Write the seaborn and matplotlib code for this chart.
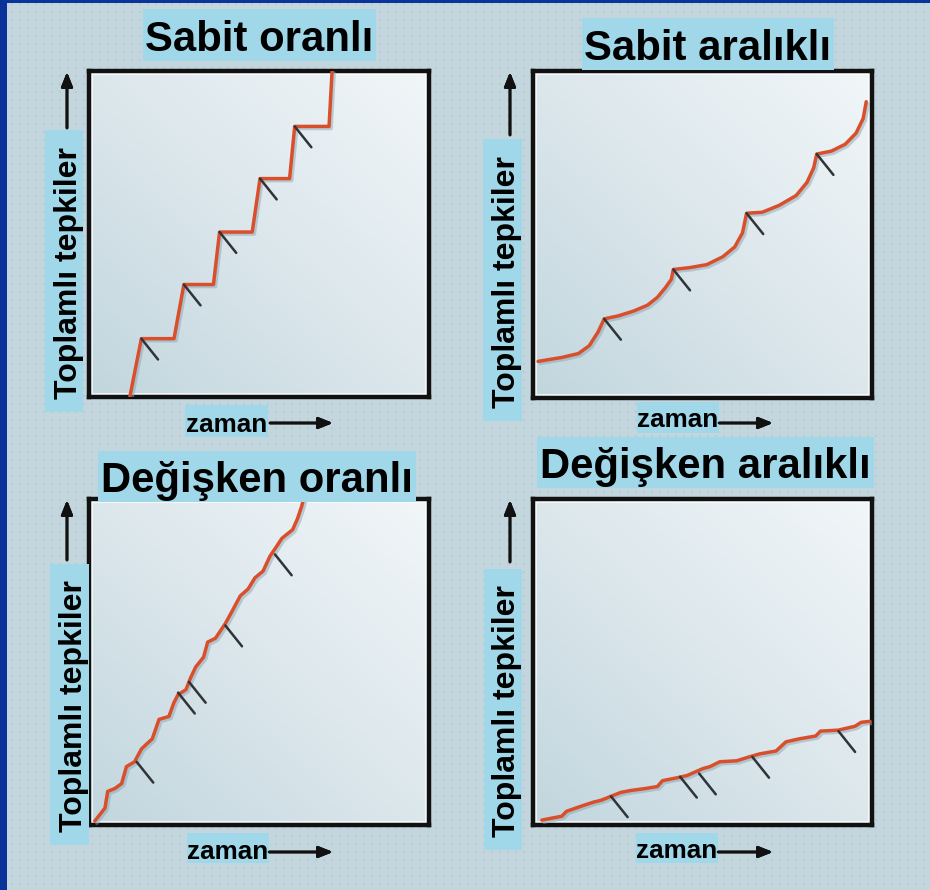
"""
Pekiştirme tarifeleri — dört küçük grafik (toplamlı tepkiler / zaman)
"""

import matplotlib
matplotlib.use("Agg")

import matplotlib.pyplot as plt
import matplotlib.patheffects as pe
from matplotlib.colors import LinearSegmentedColormap
from matplotlib.patches import Rectangle
import numpy as np
import seaborn as sns

# ============================================================
# VERİ (grafik kutusu içinde 0-100 ölçeği)
# ============================================================
BASLIKLAR = ["Sabit oranlı", "Sabit aralıklı", "Değişken oranlı", "Değişken aralıklı"]
Y_ETIKET = "Toplamlı tepkiler"
X_ETIKET = "zaman"

# Sabit oranlı: basamaklar
SO_X = [12.0, 15.4, 25.0, 27.9, 36.6, 38.4, 48.0, 50.3, 59.0, 60.5, 70.6, 71.5]
SO_Y = [0.0, 17.9, 17.9, 34.5, 34.5, 50.6, 50.6, 67.0, 67.0, 83.0, 83.0, 100.0]
SO_PEK_X = [15.4, 27.9, 38.4, 50.3, 60.5]
SO_PEK_Y = [17.9, 34.5, 50.6, 67.0, 83.0]

# Sabit aralıklı: tarak (scallop) eğrisi
SA_X = [1.5, 8.5, 13.4, 16.6, 19.2, 21.0,
        25.1, 29.7, 33.8, 36.7, 39.1, 40.8, 41.4,
        46.4, 51.3, 56.0, 59.5, 61.8, 63.0,
        67.6, 72.6, 77.6, 80.8, 82.8, 83.7,
        88.0, 92.1, 95.3, 97.4, 98.3]
SA_Y = [11.2, 12.4, 13.6, 16.0, 20.2, 24.2,
        25.1, 26.6, 28.4, 30.8, 33.8, 36.3, 39.3,
        39.9, 40.8, 43.2, 46.2, 50.5, 56.5,
        56.8, 58.9, 61.9, 65.9, 70.4, 74.6,
        75.5, 77.6, 81.0, 85.5, 90.6]
SA_PEK_X = [21.0, 41.4, 63.0, 83.7]
SA_PEK_Y = [24.2, 39.3, 56.5, 74.6]

# Değişken oranlı: dik, pürüzlü çizgi
DO_X = [1.7, 4.7, 5.5, 7.6, 9.6, 11.0, 13.4, 15.4, 16.9, 18.6, 20.6, 23.5,
        25.0, 26.2, 28.5, 29.9, 31.4, 33.7, 34.9, 37.2, 40.1, 42.2, 44.5,
        46.8, 48.8, 51.2, 53.2, 55.2, 56.7, 59.9, 61.3, 62.5, 63.1]
DO_Y = [1.2, 5.2, 10.3, 11.2, 12.7, 17.9, 19.4, 23.3, 24.8, 26.4, 32.4, 33.3,
        37.6, 40.0, 41.5, 45.2, 48.5, 51.5, 56.1, 57.3, 61.8, 65.8, 70.3,
        72.4, 75.8, 77.9, 82.4, 85.5, 87.9, 90.6, 93.9, 97.6, 100.0]
DO_PEK_X = [14.0, 26.2, 29.4, 40.1, 54.7]
DO_PEK_Y = [19.4, 40.6, 43.9, 61.2, 83.0]

# Değişken aralıklı: yatık, pürüzlü çizgi
DA_X = [2.6, 8.5, 9.9, 14.3, 17.8, 20.1, 23.0, 25.9, 28.9, 33.2, 36.7, 38.2,
        42.6, 45.5, 50.1, 52.2, 55.1, 60.1, 63.8, 66.8, 71.7, 74.6, 78.4,
        83.4, 84.8, 90.1, 95.0, 96.8, 99.4]
DA_Y = [1.5, 2.7, 4.2, 5.8, 7.0, 7.6, 8.8, 10.0, 10.6, 11.2, 11.8, 13.6,
        14.5, 15.2, 17.3, 17.9, 19.4, 19.7, 20.9, 21.8, 22.7, 25.5, 26.4,
        27.3, 28.8, 29.1, 30.3, 31.5, 31.8]
DA_PEK_X = [23.0, 43.4, 49.0, 64.7, 90.1]
DA_PEK_Y = [8.8, 14.8, 15.8, 20.9, 28.8]

# ============================================================
# STİL
# ============================================================
ARKA = "#c3d6de"
SERIT = "#0a3399"
VURGU = "#a0d8ea"
KIRMIZI = "#d94f2b"
W, H = 930, 890

sns.set_theme(style="white")
plt.rcParams["font.family"] = ["Liberation Sans", "DejaVu Sans"]


def fx(x):
    return x / W


def fy(y):
    return 1 - y / H


def kutu(fig, x0, y0, x1, y1):
    fig.add_artist(Rectangle((fx(x0), fy(y1)), (x1 - x0) / W, (y1 - y0) / H,
                             transform=fig.transFigure, facecolor=VURGU,
                             edgecolor="none", zorder=2))


def ok(fig, x0, y0, x1, y1):
    fig.add_artist(plt.annotate(
        "", xy=(x1, H - y1), xytext=(x0, H - y0),
        xycoords="figure pixels", textcoords="figure pixels",
        arrowprops=dict(arrowstyle="-|>,head_length=0.5,head_width=0.2",
                        mutation_scale=17, color="#111111", lw=2.0,
                        shrinkA=0, shrinkB=0)))


# panel düzeni (piksel): eksen, başlık kutusu, başlık taban çizgisi,
# y etiket kutusu, y etiket taban x, y ok, x etiket kutusu, x ok
PANELLER = [
    dict(ax=(89, 71, 429, 397), tb=(143, 9, 376, 61), tbase=51,
         yb=(45, 130, 83, 412), ybase=77, yok=(67, 128, 72),
         xb=(185, 405, 268, 437), xbase=432, xok=(270, 333, 423),
         x=SO_X, y=SO_Y, px=SO_PEK_X, py=SO_PEK_Y),
    dict(ax=(533, 71, 872, 398), tb=(582, 18, 834, 70), tbase=60,
         yb=(483, 139, 522, 421), ybase=515, yok=(510, 135, 72),
         xb=(637, 402, 719, 433), xbase=427, xok=(719, 773, 423),
         x=SA_X, y=SA_Y, px=SA_PEK_X, py=SA_PEK_Y),
    dict(ax=(89, 499, 429, 825), tb=(98, 451, 416, 502), tbase=492,
         yb=(50, 564, 89, 845), ybase=82, yok=(67, 560, 500),
         xb=(187, 833, 269, 863), xbase=859, xok=(269, 333, 852),
         x=DO_X, y=DO_Y, px=DO_PEK_X, py=DO_PEK_Y),
    dict(ax=(533, 499, 872, 825), tb=(537, 437, 874, 488), tbase=478,
         yb=(484, 569, 522, 850), ybase=515, yok=(510, 562, 500),
         xb=(636, 833, 718, 863), xbase=858, xok=(718, 773, 852),
         x=DA_X, y=DA_Y, px=DA_PEK_X, py=DA_PEK_Y),
]

gradyan = LinearSegmentedColormap.from_list("panel", ["#c2d6de", "#dce7ec", "#f1f6f8"])
zemin = np.add.outer(np.linspace(0, 1, 60), np.linspace(0, 1, 60)) / 2


def main():
    fig = plt.figure(figsize=(W / 100, H / 100), dpi=100, facecolor=ARKA)

    # arka plandaki hafif nokta dokusu
    doku = fig.add_axes([0, 0, 1, 1], zorder=-1)
    doku.set_axis_off()
    gx, gy = np.meshgrid(np.arange(4, W, 8), np.arange(4, H, 8))
    doku.scatter(gx.ravel(), gy.ravel(), s=1.2, marker="s", color="#b6cbd4",
                 linewidths=0)
    doku.set_xlim(0, W)
    doku.set_ylim(H, 0)

    # sol ve üst mavi şerit
    fig.add_artist(Rectangle((0, 0), fx(7), 1, transform=fig.transFigure,
                             facecolor=SERIT, edgecolor="none", zorder=1))
    fig.add_artist(Rectangle((0, fy(3)), 1, 3 / H, transform=fig.transFigure,
                             facecolor=SERIT, edgecolor="none", zorder=1))

    for baslik, p in zip(BASLIKLAR, PANELLER):
        x0, y0, x1, y1 = p["ax"]
        ax = fig.add_axes([fx(x0), fy(y1), (x1 - x0) / W, (y1 - y0) / H])
        ax.imshow(zemin, extent=[0, 100, 0, 100], origin="lower", cmap=gradyan,
                  aspect="auto", zorder=0, interpolation="bicubic")
        ax.add_patch(Rectangle((0.8, 0.8), 98.4, 98.4, fill=False,
                               edgecolor="white", lw=1.5, alpha=0.7, zorder=1))

        sns.lineplot(x=p["x"], y=p["y"], sort=False, estimator=None, ax=ax,
                     color=KIRMIZI, linewidth=2.5, zorder=3,
                     path_effects=[pe.SimpleLineShadow(offset=(1.5, -1.5),
                                                       shadow_color="#8aa6b3",
                                                       alpha=0.5),
                                   pe.Normal()])

        # pekiştirme işaretleri
        for mx, my in zip(p["px"], p["py"]):
            ax.annotate("", xy=(mx, my), xytext=(12, -15), textcoords="offset points",
                        arrowprops=dict(arrowstyle="-", color="#2e3437", lw=1.8,
                                        shrinkA=0, shrinkB=0), zorder=4)

        ax.set_xlim(0, 100)
        ax.set_ylim(0, 100)
        ax.set_xticks([])
        ax.set_yticks([])
        for sp in ax.spines.values():
            sp.set_linewidth(3.2)
            sp.set_color("#111111")
            sp.set_visible(True)

        # başlık
        bx0, by0, bx1, by1 = p["tb"]
        kutu(fig, bx0, by0, bx1, by1)
        fig.text(fx((bx0 + bx1) / 2), fy(p["tbase"]), baslik, ha="center",
                 va="baseline", fontsize=30.2, fontweight="bold", color="black",
                 zorder=3)

        # y ekseni etiketi
        yx0, yy0, yx1, yy1 = p["yb"]
        kutu(fig, yx0, yy0, yx1, yy1)
        fig.text(fx(p["ybase"]), fy((yy0 + yy1) / 2 + 2), Y_ETIKET, rotation=90,
                 rotation_mode="anchor", ha="center", va="baseline",
                 fontsize=23, fontweight="bold", color="black", zorder=3)
        ox, oy0, oy1 = p["yok"]
        ok(fig, ox, oy0, ox, oy1)

        # x ekseni etiketi
        xx0, xy0, xx1, xy1 = p["xb"]
        kutu(fig, xx0, xy0, xx1, xy1)
        fig.text(fx((xx0 + xx1) / 2), fy(p["xbase"]), X_ETIKET, ha="center",
                 va="baseline", fontsize=18.8, fontweight="bold", color="black",
                 zorder=3)
        ax0, ax1_, ay = p["xok"]
        ok(fig, ax0, ay, ax1_, ay)

    fig.savefig("out.png", dpi=100, facecolor=ARKA)
    plt.close(fig)


if __name__ == "__main__":
    main()
